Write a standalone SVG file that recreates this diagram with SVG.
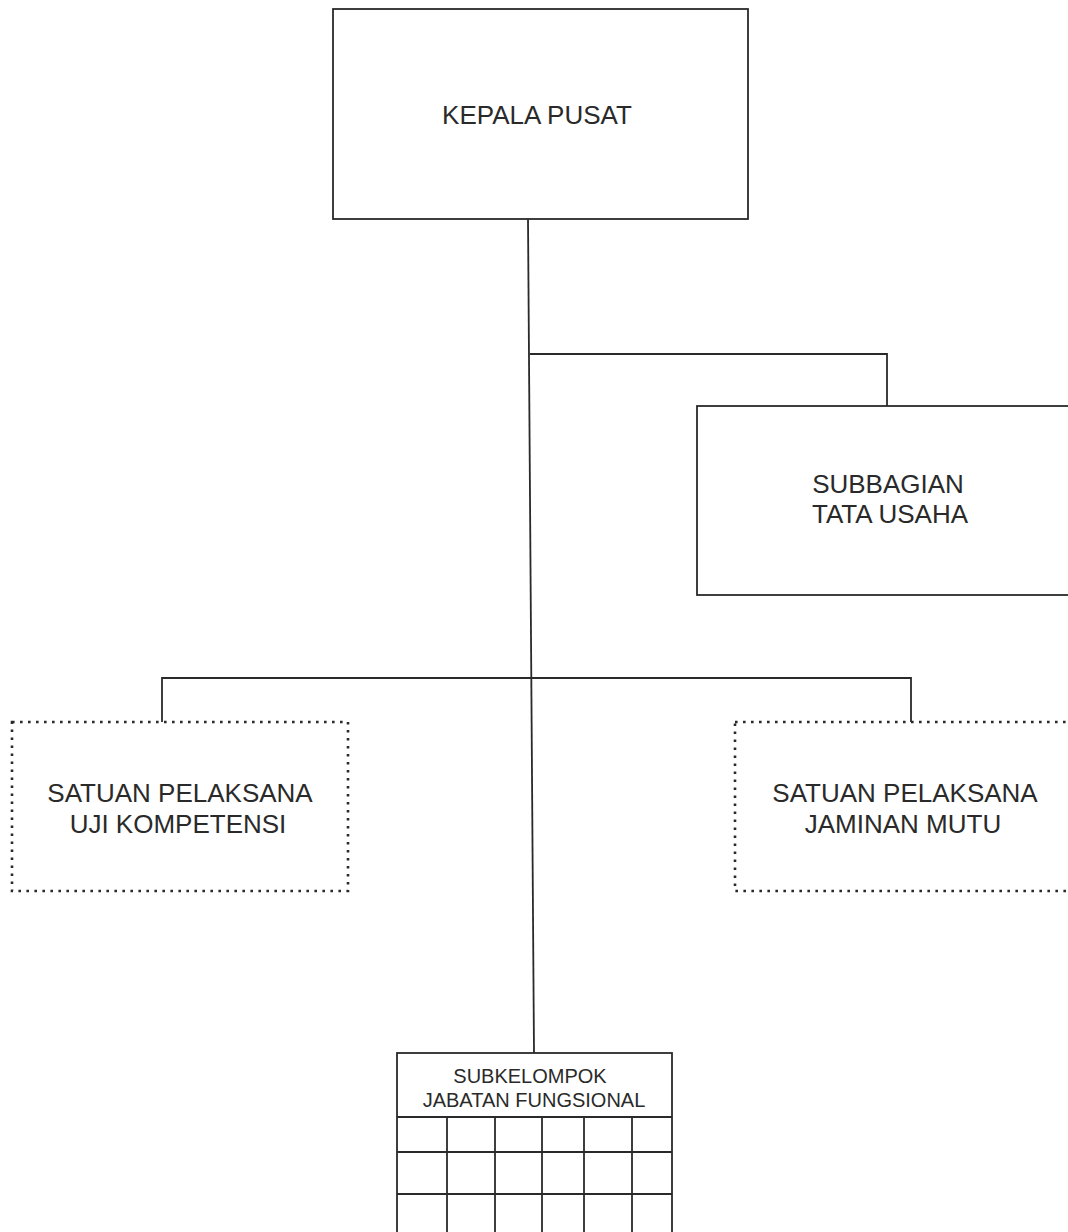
<svg xmlns="http://www.w3.org/2000/svg" width="1068" height="1232" viewBox="0 0 1068 1232">
<style>
.box{fill:none;stroke:#2a2a2a;stroke-width:1.8}
.dot{fill:none;stroke:#2a2a2a;stroke-width:2.6;stroke-dasharray:2.6 5.4}
.ln{fill:none;stroke:#2a2a2a;stroke-width:1.8}
.t{font-family:"Liberation Sans",Arial,sans-serif;font-size:26px;fill:#2a2a2a;text-anchor:middle}
.s{font-size:20px}
</style>
<rect width="1068" height="1232" fill="#ffffff"/>
<g id="connectors">
<path class="ln" d="M528,219 L534,1053"/>
<path class="ln" d="M530,354 H887 V406"/>
<path class="ln" d="M162,722 V678 H911 V722"/>
</g>
<g id="kepala-pusat">
<rect class="box" x="333" y="9" width="415" height="210"/>
<text class="t" x="537" y="124">KEPALA PUSAT</text>
</g>
<g id="subbagian-tata-usaha">
<rect class="box" x="697" y="406" width="380" height="189"/>
<text class="t" x="888" y="493">SUBBAGIAN</text>
<text class="t" x="890" y="523">TATA USAHA</text>
</g>
<g id="satuan-uji-kompetensi">
<rect class="dot" x="12" y="722" width="336" height="169"/>
<text class="t" x="180" y="802">SATUAN PELAKSANA</text>
<text class="t" x="178" y="833">UJI KOMPETENSI</text>
</g>
<g id="satuan-jaminan-mutu">
<rect class="dot" x="735" y="722" width="345" height="169"/>
<text class="t" x="905" y="802">SATUAN PELAKSANA</text>
<text class="t" x="903" y="833">JAMINAN MUTU</text>
</g>
<g id="subkelompok-jabatan-fungsional">
<rect class="box" x="397" y="1053" width="275" height="190"/>
<text class="t s" x="530" y="1083">SUBKELOMPOK</text>
<text class="t s" x="534" y="1107">JABATAN FUNGSIONAL</text>
<path class="ln" d="M397,1117 H672 M397,1152 H672 M397,1194 H672 M447,1117 V1240 M495,1117 V1240 M542,1117 V1240 M584,1117 V1240 M632,1117 V1240"/>
</g>
</svg>
